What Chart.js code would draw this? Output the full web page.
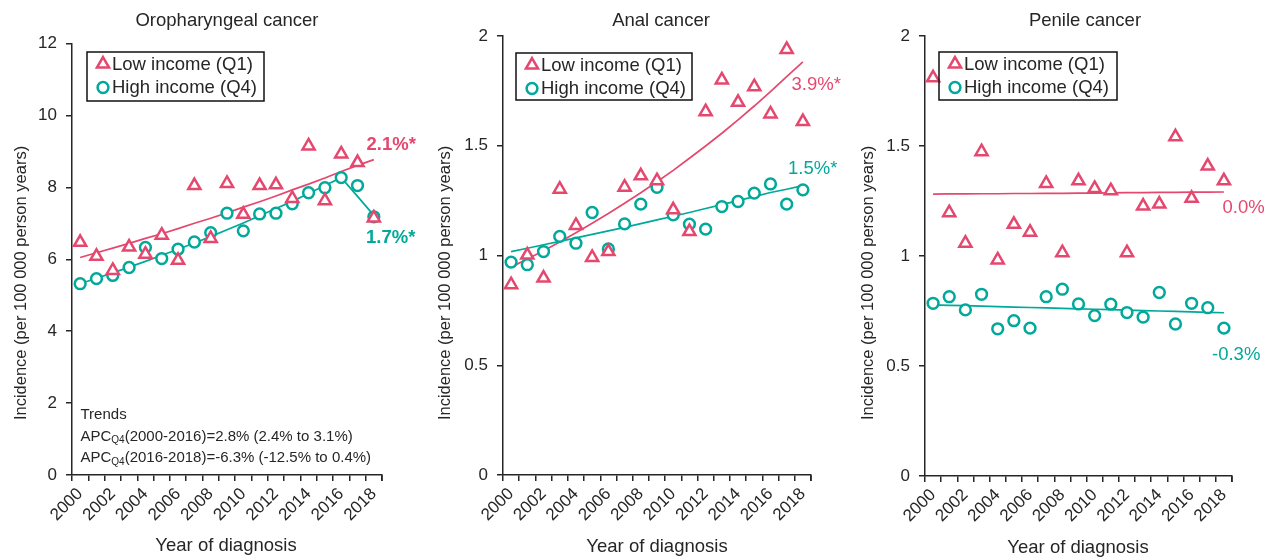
<!DOCTYPE html>
<html>
<head>
<meta charset="utf-8">
<script src="https://cdn.jsdelivr.net/npm/chart.js@4.4.1/dist/chart.umd.min.js"></script>
<style>
  html, body { margin: 0; padding: 0; background: #fff; }
  body { width: 1264px; height: 558px; position: relative; overflow: hidden; }
  .panel { position: absolute; top: 0; height: 558px; }
</style>
</head>
<body>
<div class="panel" style="left:0px;width:421px"><canvas id="c1" width="421" height="558"></canvas></div>
<div class="panel" style="left:421px;width:421px"><canvas id="c2" width="421" height="558"></canvas></div>
<div class="panel" style="left:842px;width:422px"><canvas id="c3" width="422" height="558"></canvas></div>
<script>
// ---------- DATA ----------
const years = ['2000','2001','2002','2003','2004','2005','2006','2007','2008','2009','2010','2011','2012','2013','2014','2015','2016','2017','2018'];

const panelTitles = ['Oropharyngeal cancer', 'Anal cancer', 'Penile cancer'];
const seriesNames = ['Low income (Q1)', 'High income (Q4)'];
const yAxisTitle = 'Incidence (per 100 000 person years)';
const xAxisTitle = 'Year of diagnosis';

// Oropharyngeal
const oroLow  = [6.47,6.08,5.69,6.34,6.14,6.67,5.97,8.05,6.58,8.11,7.25,8.05,8.07,7.69,9.15,7.63,8.93,8.69,7.15];
const oroHigh = [5.32,5.46,5.55,5.77,6.33,6.02,6.28,6.48,6.74,7.28,6.79,7.26,7.28,7.54,7.85,7.99,8.27,8.05,7.18];
const oroLowTrend  = [6.05,6.18,6.31,6.44,6.58,6.71,6.85,7.00,7.14,7.29,7.45,7.60,7.76,7.93,8.09,8.26,8.44,8.61,8.77];
const oroHighTrend = [5.32,5.47,5.62,5.78,5.94,6.11,6.28,6.45,6.63,6.82,7.01,7.21,7.41,7.61,7.83,8.05,8.27,7.75,7.22];
const oroYTicks = [0, 12, 2];
const oroLabels = ['2.1%*', '1.7%*'];
const oroTrendNotes = ['Trends', '(2000-2016)=2.8% (2.4% to 3.1%)', '(2016-2018)=-6.3% (-12.5% to 0.4%)'];

// Anal
const analLow  = [0.867,1.002,0.897,1.302,1.137,0.991,1.018,1.311,1.363,1.341,1.208,1.109,1.655,1.800,1.698,1.769,1.645,1.939,1.610];
const analHigh = [0.970,0.958,1.018,1.087,1.056,1.196,1.030,1.144,1.234,1.311,1.185,1.143,1.120,1.223,1.246,1.284,1.326,1.234,1.299];
const analLowTrend  = [0.947,0.984,1.022,1.062,1.104,1.147,1.191,1.238,1.286,1.336,1.388,1.443,1.499,1.557,1.618,1.681,1.747,1.815,1.882];
const analHighTrend = [1.018,1.033,1.049,1.064,1.080,1.096,1.112,1.128,1.145,1.162,1.179,1.196,1.214,1.232,1.250,1.268,1.287,1.302,1.318];
const analYTicks = [0, 2, 0.5];
const analLabels = ['3.9%*', '1.5%*'];

// Penile
const penLow  = [1.810,1.197,1.058,1.474,0.982,1.144,1.108,1.330,1.015,1.342,1.307,1.297,1.015,1.227,1.236,1.542,1.262,1.409,1.342];
const penHigh = [0.785,0.815,0.755,0.826,0.669,0.706,0.672,0.815,0.849,0.782,0.729,0.781,0.743,0.722,0.834,0.691,0.785,0.765,0.672];
const penLowTrend  = [1.281,1.282,1.282,1.283,1.283,1.284,1.284,1.285,1.285,1.286,1.286,1.287,1.288,1.288,1.289,1.289,1.290,1.290,1.291];
const penHighTrend = [0.778,0.776,0.774,0.772,0.770,0.768,0.766,0.764,0.762,0.760,0.758,0.756,0.754,0.752,0.750,0.748,0.746,0.744,0.742];
const penYTicks = [0, 2, 0.5];
const penLabels = ['0.0%', '-0.3%'];

// ---------- STYLE ----------
const PINK = '#E5486F';
const TEAL = '#00A99A';
const INK = '#262626';
const FONT = '"Liberation Sans", Arial, Helvetica, sans-serif';
const TRI_R = 7;
const CIR_R = 5.4;
Chart.defaults.font.family = FONT;
Chart.defaults.color = INK;

// ---------- decoration plugin ----------
const decor = {
  id: 'decor',
  afterDraw(chart, args, o) {
    const ctx = chart.ctx;
    const ca = chart.chartArea;
    ctx.save();
    ctx.fillStyle = INK;
    ctx.textBaseline = 'middle';
    // panel title
    ctx.font = '18.5px ' + FONT;
    ctx.textAlign = 'center';
    ctx.fillText(o.title, o.titleX, o.titleY);
    // x axis title
    ctx.font = '18.5px ' + FONT;
    ctx.fillText(xAxisTitle, o.xTitleX, o.xTitleY);
    // y axis title
    ctx.save();
    ctx.translate(o.yTitleX, o.yTitleY);
    ctx.rotate(-Math.PI / 2);
    ctx.font = '16.5px ' + FONT;
    ctx.fillText(yAxisTitle, 0, 0);
    ctx.restore();
    // right end tick of x axis
    ctx.strokeStyle = INK;
    ctx.lineWidth = 1.5;
    ctx.beginPath();
    ctx.moveTo(ca.right, ca.bottom);
    ctx.lineTo(ca.right, ca.bottom + 6);
    ctx.stroke();
    // legend box
    const L = o.legend;
    ctx.lineWidth = 1.5;
    ctx.strokeStyle = '#111';
    ctx.strokeRect(L.x, L.y, L.w, L.h);
    const rows = [
      {style: 'triangle', color: PINK, r: TRI_R, text: seriesNames[0], y: L.y + 12},
      {style: 'circle', color: TEAL, r: CIR_R, text: seriesNames[1], y: L.y + 35.5}
    ];
    rows.forEach(rw => {
      ctx.fillStyle = '#fff';
      ctx.strokeStyle = rw.color;
      ctx.lineWidth = 2.5;
      Chart.helpers.drawPoint(ctx, {pointStyle: rw.style, radius: rw.r, borderWidth: 2.5}, L.x + 16, rw.y);
      ctx.fillStyle = INK;
      ctx.textAlign = 'left';
      ctx.font = '18.5px ' + FONT;
      ctx.fillText(rw.text, L.x + 25, rw.y + 0.5);
    });
    // percent labels
    o.labels.forEach(lb => {
      ctx.fillStyle = lb.color;
      ctx.textAlign = 'left';
      ctx.font = (lb.bold ? 'bold ' : '') + '18.5px ' + FONT;
      ctx.fillText(lb.text, lb.x, lb.y);
    });
    // trend notes
    if (o.notes) {
      const n = o.notes;
      ctx.fillStyle = INK;
      ctx.textAlign = 'left';
      ctx.font = '15px ' + FONT;
      ctx.fillText(oroTrendNotes[0], n.x, n.y);
      [1, 2].forEach((k, j) => {
        const yy = n.y + 21.5 * (j + 1);
        ctx.font = '15px ' + FONT;
        ctx.fillText('APC', n.x, yy);
        let w = ctx.measureText('APC').width;
        ctx.font = '10px ' + FONT;
        ctx.fillText('Q4', n.x + w, yy + 4);
        w += ctx.measureText('Q4').width;
        ctx.font = '15px ' + FONT;
        ctx.fillText(oroTrendNotes[k], n.x + w, yy);
      });
    }
    ctx.restore();
  }
};

function makeChart(id, low, high, lowTrend, highTrend, yTicks, lay, deco) {
  const ctx = document.getElementById(id).getContext('2d');
  return new Chart(ctx, {
    type: 'line',
    data: {
      labels: years,
      datasets: [
        {label: seriesNames[0], data: low, showLine: false, pointStyle: 'triangle', pointRadius: TRI_R,
         pointBorderWidth: 2.5, pointBorderColor: PINK, pointBackgroundColor: '#fff', borderColor: PINK, order: 0},
        {label: seriesNames[1], data: high, showLine: false, pointStyle: 'circle', pointRadius: CIR_R,
         pointBorderWidth: 2.5, pointBorderColor: TEAL, pointBackgroundColor: '#fff', borderColor: TEAL, order: 1},
        {label: 'trendLow', data: lowTrend, pointRadius: 0, borderColor: PINK, borderWidth: 1.7, order: 3},
        {label: 'trendHigh', data: highTrend, pointRadius: 0, borderColor: TEAL, borderWidth: 1.7, order: 2}
      ]
    },
    options: {
      responsive: false,
      animation: false,
      layout: {padding: {top: lay.top, right: lay.right, bottom: 0, left: 0}},
      plugins: {legend: {display: false}, tooltip: {enabled: false}, decor: deco},
      scales: {
        x: {
          type: 'category',
          offset: true,
          grid: {offset: true, drawOnChartArea: false, drawTicks: true, tickLength: 6, color: INK, lineWidth: 1.5},
          border: {display: true, color: INK, width: 1.5},
          ticks: {
            autoSkip: false, minRotation: 45, maxRotation: 45, padding: 3,
            font: {size: 17}, color: INK,
            callback: function(v, i) { return i % 2 === 0 ? this.getLabelForValue(v) : ''; }
          },
          afterFit: s => { s.height = 558 - lay.bottom; }
        },
        y: {
          min: yTicks[0], max: yTicks[1],
          grid: {drawOnChartArea: false, drawTicks: true, tickLength: 6, color: INK, lineWidth: 1.5},
          border: {display: true, color: INK, width: 1.5},
          ticks: {stepSize: yTicks[2], padding: 9, font: {size: 17}, color: INK,
                  callback: v => String(Math.round(v * 10) / 10)},
          afterFit: s => { s.width = lay.left; }
        }
      }
    },
    plugins: [decor]
  });
}

makeChart('c1', oroLow, oroHigh, oroLowTrend, oroHighTrend, oroYTicks,
  {top: 43.5, right: 39, bottom: 475, left: 72},
  {title: panelTitles[0], titleX: 227, titleY: 20.5, xTitleX: 226, xTitleY: 546, yTitleX: 21, yTitleY: 283,
   legend: {x: 87, y: 52, w: 177, h: 49},
   labels: [{text: oroLabels[0], x: 366.5, y: 145, color: PINK, bold: true},
            {text: oroLabels[1], x: 366, y: 238, color: TEAL, bold: true}],
   notes: {x: 80.5, y: 415}});

makeChart('c2', analLow, analHigh, analLowTrend, analHighTrend, analYTicks,
  {top: 36, right: 31, bottom: 475, left: 82},
  {title: panelTitles[1], titleX: 240, titleY: 20.5, xTitleX: 236, xTitleY: 547, yTitleX: 24, yTitleY: 283,
   legend: {x: 95, y: 53, w: 176, h: 47},
   labels: [{text: analLabels[0], x: 370.5, y: 85, color: PINK, bold: false},
            {text: analLabels[1], x: 367, y: 169, color: TEAL, bold: false}],
   notes: null});

makeChart('c3', penLow, penHigh, penLowTrend, penHighTrend, penYTicks,
  {top: 36, right: 32, bottom: 476, left: 83},
  {title: panelTitles[2], titleX: 243, titleY: 20.5, xTitleX: 236, xTitleY: 548, yTitleX: 26, yTitleY: 283,
   legend: {x: 97, y: 52, w: 178, h: 48},
   labels: [{text: penLabels[0], x: 380.5, y: 208, color: PINK, bold: false},
            {text: penLabels[1], x: 370, y: 355, color: TEAL, bold: false}],
   notes: null});
</script>
</body>
</html>
